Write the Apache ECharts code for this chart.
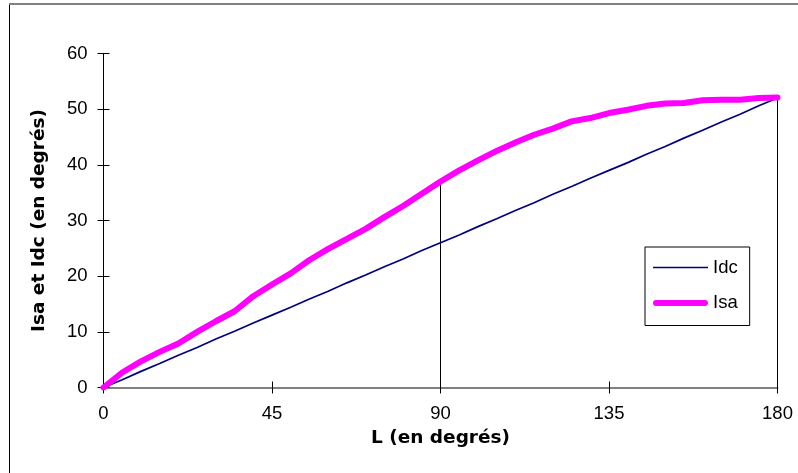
<!DOCTYPE html>
<html>
<head>
<meta charset="utf-8">
<script src="https://cdn.jsdelivr.net/npm/echarts@6/dist/echarts.min.js"></script>
<style>html,body{margin:0;padding:0;background:#fff}#c{width:798px;height:473px}</style>
</head>
<body>
<div id="c"></div>
<script>
const L = [0,5,10,15,20,25,30,35,40,45,50,55,60,65,70,75,80,85,90,95,100,105,110,115,120,125,130,135,140,145,150,155,160,165,170,175,180];
const idc = [0,1.4,2.9,4.3,5.8,7.2,8.7,10.1,11.6,13,14.4,15.9,17.3,18.8,20.2,21.7,23.1,24.6,26,27.4,28.9,30.3,31.8,33.2,34.7,36.1,37.6,39,40.4,41.9,43.3,44.8,46.2,47.7,49.1,50.6,52];
const isa = [0,2.7,4.7,6.4,7.9,10.0,11.9,13.7,16.4,18.5,20.5,22.9,24.9,26.7,28.5,30.6,32.6,34.8,37.0,39.0,40.8,42.5,44.0,45.4,46.5,47.8,48.4,49.3,49.9,50.6,51.0,51.1,51.6,51.7,51.7,52.0,52.1];
const xTicks = [0,45,90,135,180];
const yTicks = [0,10,20,30,40,50,60];
const dropX = [90,180];
const seriesNames = ['Idc','Isa'];
const xTitle = 'L (en degrés)';
const yTitle = 'Isa et Idc (en degrés)';

const chart = echarts.init(document.getElementById('c'), null, {renderer:'canvas'});
const gridPos = {left:103.5, right:20.5, top:53.5, bottom:85.5, containLabel:false};
const labelFont = {fontFamily:'Liberation Sans', fontSize:18.5, color:'#000'};
const titleFont = {fontFamily:'DejaVu Sans', fontWeight:'bold', fontSize:18.5, color:'#000'};

chart.setOption({
  backgroundColor:'#fff',
  animation:false,
  graphic:[
    {type:'line', shape:{x1:9.5,y1:4,x2:9.5,y2:473}, style:{stroke:'#000', lineWidth:1}},
    {type:'line', shape:{x1:9,y1:4,x2:798,y2:4}, style:{stroke:'#808080', lineWidth:2}}
  ],
  grid:[Object.assign({}, gridPos), Object.assign({}, gridPos)],
  legend:{
    orient:'vertical', left:645, top:247,
    padding:[11,12,13,8],
    itemGap:16.5, itemWidth:55, itemHeight:18,
    borderColor:'#000', borderWidth:1, backgroundColor:'#fff',
    textStyle:Object.assign({}, labelFont, {padding:[0,0,0,0]}),
    data:[
      {name:seriesNames[0], icon:'path://M0,0h55v1.7h-55z'},
      {name:seriesNames[1], icon:'path://M3,0h49a3,3 0 0 1 0,6h-49a3,3 0 0 1 0,-6z'}
    ]
  },
  xAxis:[
    {type:'value', gridIndex:0, min:xTicks[0], max:xTicks[xTicks.length-1], interval:45,
     name:xTitle, nameLocation:'middle', nameGap:41, nameTextStyle:titleFont,
     axisLine:{show:true, lineStyle:{color:'#808080', width:2}},
     axisTick:{show:true, inside:false, length:6, lineStyle:{color:'#000', width:1}},
     axisLabel:Object.assign({margin:17}, labelFont),
     splitLine:{show:false}},
    {type:'value', gridIndex:1, min:xTicks[0], max:xTicks[xTicks.length-1], interval:45,
     axisLine:{show:false},
     axisTick:{show:true, inside:true, length:6, lineStyle:{color:'#000', width:1}},
     axisLabel:{show:false}, splitLine:{show:false}}
  ],
  yAxis:[
    {type:'value', gridIndex:0, min:yTicks[0], max:yTicks[yTicks.length-1], interval:10,
     name:yTitle, nameLocation:'middle', nameGap:55, nameRotate:90, nameTextStyle:titleFont,
     axisLine:{show:true, lineStyle:{color:'#000', width:1}},
     axisTick:{show:true, inside:false, length:6, lineStyle:{color:'#000', width:1}},
     axisLabel:Object.assign({margin:16}, labelFont),
     splitLine:{show:false}},
    {type:'value', gridIndex:1, min:yTicks[0], max:yTicks[yTicks.length-1], interval:10,
     axisLine:{show:false},
     axisTick:{show:true, inside:true, length:6, lineStyle:{color:'#000', width:1}},
     axisLabel:{show:false}, splitLine:{show:false}}
  ],
  series:[
    {name:seriesNames[0], type:'line', xAxisIndex:0, yAxisIndex:0,
     data:L.map((x,i)=>[x, idc[i]]), showSymbol:false, symbol:'none',
     color:'#000080', lineStyle:{color:'#000080', width:1.7}, z:2},
    {name:seriesNames[1], type:'line', xAxisIndex:0, yAxisIndex:0,
     data:L.map((x,i)=>[x, isa[i]]), showSymbol:false, symbol:'none',
     color:'#FF00FF', lineStyle:{color:'#FF00FF', width:6, cap:'round', join:'round'}, z:3,
     markLine:{silent:true, symbol:'none', label:{show:false}, z:1,
       lineStyle:{color:'#000', width:1, type:'solid'},
       data:dropX.map(x=>[{coord:[x,0]},{coord:[x, isa[L.indexOf(x)]]}])}}
  ]
});
</script>
</body>
</html>
